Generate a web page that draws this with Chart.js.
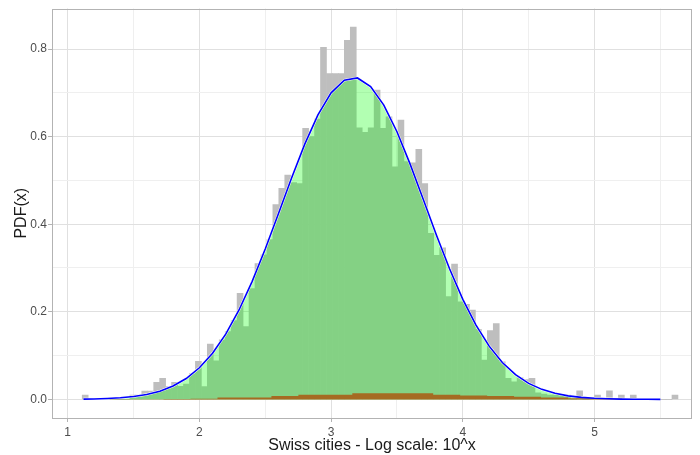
<!DOCTYPE html>
<html>
<head>
<meta charset="utf-8">
<script src="https://cdn.jsdelivr.net/npm/chart.js@4.4.0/dist/chart.umd.min.js"></script>
<style>
  html, body { margin: 0; padding: 0; background: #fff; }
  #wrap { width: 700px; height: 455px; }
</style>
</head>
<body>
<div id="wrap"><canvas id="chart" width="700" height="455"></canvas></div>
<script>
// histogram of log10(population) : 100 bins
const binFirstCentre = 1.133;
const binWidth = 0.04523;
const observed = [
  0.0098, 0, 0, 0, 0, 0, 0, 0, 0.0098, 0.0098,
  0.019, 0.019, 0.039, 0.048, 0.029, 0.039, 0.030, 0.035, 0.059, 0.087,
  0.029, 0.126, 0.088, 0.136, 0.155, 0.180, 0.242, 0.166, 0.253, 0.310,
  0.330, 0.365, 0.445, 0.482, 0.512, 0.495, 0.493, 0.619, 0.600, 0.640,
  0.804, 0.744, 0.744, 0.744, 0.820, 0.850, 0.620, 0.610, 0.620, 0.706,
  0.619, 0.645, 0.531, 0.638, 0.543, 0.540, 0.571, 0.493, 0.379, 0.329,
  0.346, 0.235, 0.309, 0.223, 0.217, 0.204, 0.160, 0.090, 0.157, 0.173,
  0.086, 0.048, 0.040, 0.050, 0.045, 0.048, 0.015, 0.012, 0.0098, 0.0098,
  0.0098, 0.0098, 0, 0.0197, 0, 0, 0.0098, 0, 0.0197, 0,
  0.0098, 0, 0.0098, 0, 0, 0, 0, 0, 0, 0.0098
];

// fitted density curve
const curveX = [1.12, 1.2, 1.3, 1.4, 1.5, 1.6, 1.7, 1.8, 1.9, 2.0,
  2.1, 2.2, 2.3, 2.4, 2.5, 2.6, 2.7, 2.8, 2.9, 3.0,
  3.1, 3.2, 3.3, 3.4, 3.5, 3.6, 3.7, 3.8, 3.9, 4.0,
  4.1, 4.2, 4.3, 4.4, 4.5, 4.6, 4.7, 4.8, 4.9, 5.0,
  5.1, 5.2, 5.3, 5.4, 5.5];
const curveY = [0.0006, 0.0010, 0.0020, 0.0036, 0.0065, 0.0112, 0.0188, 0.0305, 0.0477, 0.0722,
  0.1055, 0.149, 0.2036, 0.269, 0.3433, 0.4237, 0.5054, 0.5828, 0.6495, 0.6999,
  0.7289, 0.7339, 0.7142, 0.672, 0.6111, 0.5372, 0.4565, 0.3749, 0.2977, 0.2285,
  0.1696, 0.1216, 0.0843, 0.0565, 0.0366, 0.0229, 0.0139, 0.0081, 0.0046, 0.0025,
  0.0013, 0.0007, 0.0003, 0.0002, 0.0001];

// coarse histogram along the bottom
const coarseStart = 1.114;
const coarseWidth = 0.2047;
const coarse = [0, 0.0004, 0.0004, 0.0008, 0.0012, 0.0043, 0.0043, 0.0075, 0.0106, 0.0106,
  0.0140, 0.0140, 0.0140, 0.0106, 0.0090, 0.0075, 0.0059, 0.0043, 0.0028, 0.0012, 0, 0];

const xTicks = [1, 1.5, 2, 2.5, 3, 3.5, 4, 4.5, 5, 5.5];
const xLabels = ['1', '', '2', '', '3', '', '4', '', '5', ''];
const yTicks = [0, 0.1, 0.2, 0.3, 0.4, 0.5, 0.6, 0.7, 0.8];
const yLabels = ['0.0', '', '0.2', '', '0.4', '', '0.6', '', '0.8'];

const histPoints = observed.map((v, i) => ({ x: binFirstCentre + i * binWidth, y: v }));
const curvePoints = curveX.map((x, i) => ({ x: x, y: curveY[i] }));
const coarsePoints = coarse.map((v, i) => ({ x: coarseStart + i * coarseWidth, y: v }));
coarsePoints.push({ x: coarseStart + coarse.length * coarseWidth, y: 0 });

const panelBorder = {
  id: 'panelBorder',
  afterDatasetsDraw(chart) {
    const a = chart.chartArea;
    const ctx = chart.ctx;
    ctx.save();
    ctx.strokeStyle = '#b3b3b3';
    ctx.lineWidth = 1;
    ctx.strokeRect(Math.round(a.left) + 0.5, Math.round(a.top) + 0.5,
      Math.round(a.right - a.left) - 1, Math.round(a.bottom - a.top) - 1);
    ctx.restore();
  }
};

function isMajor(labels, index) {
  return labels[index] !== '';
}

const font = 'Liberation Sans, Arial, sans-serif';

new Chart(document.getElementById('chart'), {
  data: {
    datasets: [
      {
        type: 'line',
        data: curvePoints,
        borderColor: '#0000ff',
        borderWidth: 1.6,
        pointRadius: 0,
        fill: false,
        order: 1
      },
      {
        type: 'line',
        data: coarsePoints,
        stepped: true,
        borderWidth: 0,
        borderColor: 'rgba(0,0,0,0)',
        backgroundColor: 'rgba(166,101,28,0.95)',
        pointRadius: 0,
        fill: 'origin',
        order: 2
      },
      {
        type: 'line',
        data: curvePoints,
        borderColor: '#ffffff',
        borderWidth: 2.5,
        backgroundColor: 'rgba(0,255,0,0.3)',
        pointRadius: 0,
        fill: 'origin',
        order: 3
      },
      {
        type: 'bar',
        data: histPoints,
        backgroundColor: '#bebebe',
        borderWidth: 0,
        barPercentage: 1,
        categoryPercentage: 1,
        order: 4
      }
    ]
  },
  options: {
    responsive: false,
    animation: false,
    devicePixelRatio: 1,
    layout: { padding: { top: 8.5, right: 8, left: 0, bottom: 0 } },
    plugins: { legend: { display: false }, tooltip: { enabled: false } },
    scales: {
      x: {
        type: 'linear',
        offset: false,
        min: 0.881,
        max: 5.74,
        afterFit: s => { s.height = 37; },
        afterBuildTicks: s => { s.ticks = xTicks.map(v => ({ value: v })); },
        ticks: {
          color: '#4d4d4d',
          font: { family: font, size: 12 },
          padding: 3,
          maxRotation: 0,
          autoSkip: false,
          callback: (v, i) => xLabels[i]
        },
        grid: {
          offset: false,
          color: c => isMajor(xLabels, c.index) ? '#e0e0e0' : '#efefef',
          lineWidth: 1,
          tickLength: 4,
          tickColor: c => isMajor(xLabels, c.index) ? '#b3b3b3' : 'rgba(0,0,0,0)'
        },
        border: { display: false },
        title: {
          display: true,
          text: 'Swiss cities - Log scale: 10^x',
          color: '#1a1a1a',
          font: { family: font, size: 16 },
          padding: { top: 0, bottom: 0 }
        }
      },
      y: {
        type: 'linear',
        min: -0.0425,
        max: 0.8925,
        afterFit: s => { s.width = 52; },
        afterBuildTicks: s => { s.ticks = yTicks.map(v => ({ value: v })); },
        ticks: {
          color: '#4d4d4d',
          font: { family: font, size: 12 },
          padding: 1,
          autoSkip: false,
          callback: (v, i) => yLabels[i]
        },
        grid: {
          color: c => isMajor(yLabels, c.index) ? '#e0e0e0' : '#efefef',
          lineWidth: 1,
          tickLength: 4,
          tickColor: c => isMajor(yLabels, c.index) ? '#b3b3b3' : 'rgba(0,0,0,0)'
        },
        border: { display: false },
        title: {
          display: true,
          text: 'PDF(x)',
          color: '#1a1a1a',
          font: { family: font, size: 16 },
          padding: { top: 12, bottom: 0 }
        }
      }
    }
  },
  plugins: [panelBorder]
});
</script>
</body>
</html>
